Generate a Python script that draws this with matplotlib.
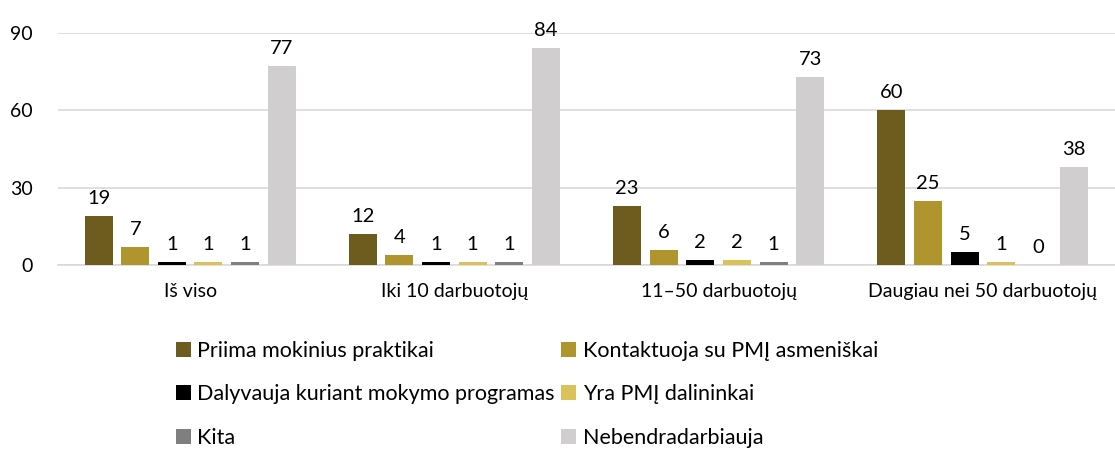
import numpy as np
import matplotlib
matplotlib.use('Agg')
import matplotlib.pyplot as plt

plt.rcParams['font.family'] = ['Lato', 'DejaVu Sans']

# categories and series
groups = ['Iš viso', 'Iki 10 darbuotojų', '11–50 darbuotojų', 'Daugiau nei 50 darbuotojų']
series = ['Priima mokinius praktikai', 'Kontaktuoja su PMĮ asmeniškai',
          'Dalyvauja kuriant mokymo programas', 'Yra PMĮ dalininkai',
          'Kita', 'Nebendradarbiauja']
priima = [19, 12, 23, 60]
kontaktuoja = [7, 4, 6, 25]
dalyvauja = [1, 1, 2, 5]
dalininkai = [1, 1, 2, 1]
kita = [1, 1, 1, 0]
nebendr = [77, 84, 73, 38]
values = [priima, kontaktuoja, dalyvauja, dalininkai, kita, nebendr]
colors = ['#6E5C1E', '#B0952F', '#000000', '#DBC15A', '#7F7F7F', '#D0CECE']

fig = plt.figure(figsize=(11.15, 4.5), dpi=100)
ax = fig.add_axes([0.052, 0.411, 0.948, 0.516])

x = np.arange(len(groups))
step = 0.1385
width = 0.106
for i, (name, vals, c) in enumerate(zip(series, values, colors)):
    pos = x + (i - 2.5) * step
    bars = ax.bar(pos, vals, width, color=c, label=name, zorder=3)
    for b, v in zip(bars, vals):
        ax.text(b.get_x() + b.get_width() / 2, v + 3.5, str(v),
                ha='center', va='bottom', fontsize=14.5, color='#000000')

ax.set_ylim(0, 90)
ax.set_xlim(-0.5, len(groups) - 0.5)
ax.set_yticks([0, 30, 60, 90])
ax.yaxis.grid(True, color='#D9D9D9', linewidth=1.2, zorder=0)
ax.set_xticks(x)
ax.set_xticklabels(groups, fontsize=14)
ax.tick_params(axis='y', labelsize=14, length=0, pad=18)
ax.tick_params(axis='x', length=0, pad=13)
for s in ['top', 'right', 'left']:
    ax.spines[s].set_visible(False)
ax.spines['bottom'].set_color('#D9D9D9')
ax.spines['bottom'].set_linewidth(1.2)

# legend filled row by row like the original
handles, labels = ax.get_legend_handles_labels()
order = [0, 2, 4, 1, 3, 5]
leg = fig.legend([handles[k] for k in order], [labels[k] for k in order],
                 ncol=2, loc='upper left',
                 bbox_to_anchor=(0.150, 0.262), frameon=False, fontsize=15.5,
                 handlelength=0.7, handleheight=0.7, handletextpad=0.3,
                 columnspacing=0.3, labelspacing=1.1, borderaxespad=0)

fig.savefig('out.png', dpi=100)
